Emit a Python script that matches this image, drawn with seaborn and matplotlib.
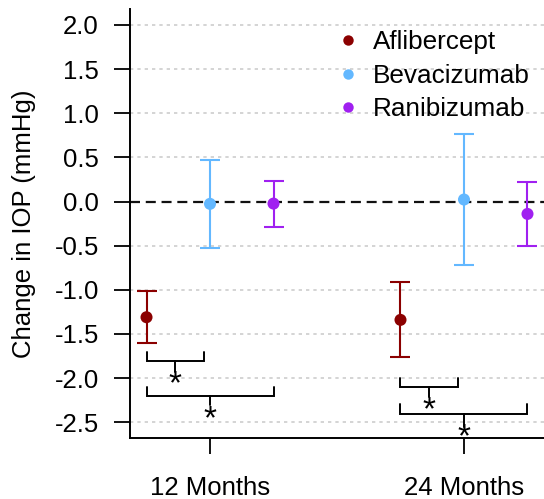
import numpy as np
import pandas as pd
import matplotlib
matplotlib.use("Agg")
import matplotlib.pyplot as plt
import seaborn as sns
from matplotlib.lines import Line2D

# ---------------- data ----------------
months = ["12 Months", "24 Months"]
drugs = ["Aflibercept", "Bevacizumab", "Ranibizumab"]
aflibercept_mean = [-1.31, -1.34]
aflibercept_lo = [-1.607, -1.765]
aflibercept_hi = [-1.017, -0.907]
bevacizumab_mean = [-0.026, 0.023]
bevacizumab_lo = [-0.525, -0.72]
bevacizumab_hi = [0.47, 0.77]
ranibizumab_mean = [-0.023, -0.14]
ranibizumab_lo = [-0.283, -0.507]
ranibizumab_hi = [0.235, 0.223]
yticks = [-2.5, -2.0, -1.5, -1.0, -0.5, 0.0, 0.5, 1.0, 1.5, 2.0]
ytick_labels = ["-2.5", "-2.0", "-1.5", "-1.0", "-0.5", "0.0", "0.5", "1.0", "1.5", "2.0"]
ylabel = "Change in IOP (mmHg)"

# significance brackets: month index, left/right drug, top of ends, bar level, drop end, star level
sig_month = [0, 0, 1, 1]
sig_from = ["Aflibercept", "Aflibercept", "Aflibercept", "Aflibercept"]
sig_to = ["Bevacizumab", "Ranibizumab", "Bevacizumab", "Ranibizumab"]
sig_top = [-1.70, -2.096, -2.0, -2.296]
sig_bar = [-1.805, -2.20, -2.10, -2.405]
sig_drop = [-1.926, -2.30, -2.21, -2.55]
sig_star = [-2.0, -2.394, -2.30, -2.606]

palette = {"Aflibercept": "#8B0000", "Bevacizumab": "#63B8FF", "Ranibizumab": "#A020F0"}
dodge = {"Aflibercept": -0.25, "Bevacizumab": 0.0, "Ranibizumab": 0.25}

means = {"Aflibercept": aflibercept_mean, "Bevacizumab": bevacizumab_mean, "Ranibizumab": ranibizumab_mean}
los = {"Aflibercept": aflibercept_lo, "Bevacizumab": bevacizumab_lo, "Ranibizumab": ranibizumab_lo}
his = {"Aflibercept": aflibercept_hi, "Bevacizumab": bevacizumab_hi, "Ranibizumab": ranibizumab_hi}

rows = []
for d in drugs:
    for i, m in enumerate(months):
        rows.append({"drug": d, "month": m, "xpos": i + 1 + dodge[d],
                     "change": means[d][i], "lo": los[d][i], "hi": his[d][i]})
df = pd.DataFrame(rows)

# ---------------- style ----------------
sns.set_style("ticks")
plt.rcParams["font.family"] = ["Liberation Sans", "DejaVu Sans"]
plt.rcParams["axes.unicode_minus"] = False
plt.rcParams["text.color"] = "black"
plt.rcParams["axes.labelcolor"] = "black"
plt.rcParams["xtick.color"] = "black"
plt.rcParams["ytick.color"] = "black"
FS = 18.5

fig = plt.figure(figsize=(5.44, 4.99), dpi=100)
W, H = 544, 499
ax = fig.add_axes([130 / W, (H - 438) / H, (W - 130) / W, (438 - 9) / H])

ax.set_xlim(0.685, 2.315)
ax.set_ylim(-2.678, 2.181)

# grid lines
for yt in yticks:
    if yt == 0:
        continue
    ax.axhline(yt, color="#cdcdcd", lw=1.2, ls=(0, (2, 2.4)), zorder=0)
ax.axhline(0, color="#111111", lw=1.6, ls=(0, (4.5, 2.6)), zorder=1)

# error bars
for d in drugs:
    sub = df[df.drug == d]
    ax.errorbar(sub.xpos, sub.change,
                yerr=[sub.change - sub.lo, sub.hi - sub.change],
                fmt="none", ecolor=palette[d], elinewidth=1.5, capsize=7.2,
                capthick=1.5, zorder=2)

sns.scatterplot(data=df, x="xpos", y="change", hue="drug", palette=palette,
                s=75, edgecolor="none", linewidth=0, ax=ax, zorder=3, legend=False)

# significance brackets
for mi, a, b, yt, yb, yd, ys in zip(sig_month, sig_from, sig_to, sig_top, sig_bar, sig_drop, sig_star):
    x0 = mi + 1 + dodge[a]
    x1 = mi + 1 + dodge[b] - (0.025 if b == "Bevacizumab" else 0.0)
    xm = (x0 + x1) / 2
    ax.plot([x0, x0, x1, x1], [yt, yb, yb, yt], color="black", lw=1.4, zorder=2,
            solid_joinstyle="miter")
    ax.plot([xm, xm], [yb, yd], color="black", lw=1.4, zorder=2)
    ax.annotate("*", xy=(xm, ys), xytext=(0, -10.8), textcoords="offset points",
                ha="center", va="baseline", fontsize=24, color="black")

# axes
ax.set_xticks([1, 2])
ax.set_xticklabels(months)
ax.set_yticks(yticks)
ax.set_yticklabels(ytick_labels)
ax.set_xlabel("")
ax.set_ylabel(ylabel, fontsize=FS, labelpad=13, color="black")
ax.tick_params(axis="both", labelsize=FS, length=11.5, width=1.3, color="black",
               labelcolor="black", direction="out")
ax.tick_params(axis="y", pad=11)
ax.tick_params(axis="x", pad=16)
for s in ["top", "right"]:
    ax.spines[s].set_visible(False)
for s in ["left", "bottom"]:
    ax.spines[s].set_linewidth(1.4)
    ax.spines[s].set_color("black")

# legend
handles = [Line2D([0], [0], marker="o", ls="none", color=palette[d], markersize=7.5,
                  markeredgewidth=0) for d in drugs]
leg = ax.legend(handles, drugs, loc="upper left", bbox_to_anchor=(335 / W, (H - 30) / H),
                bbox_transform=fig.transFigure, frameon=False, fontsize=18.8,
                handlelength=1.0, handletextpad=0.45, labelspacing=0.37,
                borderpad=0, borderaxespad=0)
for t in leg.get_texts():
    t.set_color("black")

fig.savefig("out.png", dpi=100)
